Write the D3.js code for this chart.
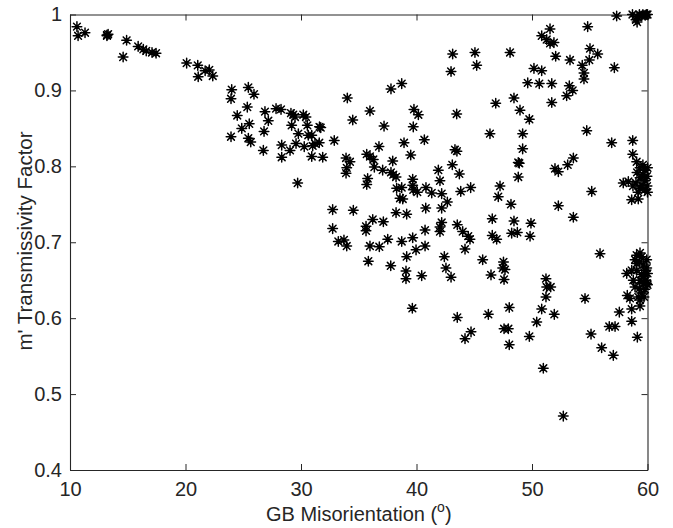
<!DOCTYPE html>
<html>
<head>
<meta charset="utf-8">
<script src="https://cdn.jsdelivr.net/npm/d3@7/dist/d3.min.js"></script>
<style>
  html, body { margin: 0; padding: 0; background: #fff; }
  svg { display: block; }
  text { font-family: "Liberation Sans", Arial, Helvetica, sans-serif; }
</style>
</head>
<body>
<svg id="chart" width="673" height="528"></svg>
<script>
// ---- data: [GB misorientation (deg), m' transmissivity factor] ----
const lowAngle = [
  [10.6,0.984],[10.7,0.972],[11.3,0.976],[13.2,0.973],[13.3,0.974],[13.2,0.972],[14.9,0.966],[14.6,0.944],
  [15.9,0.958],[16.35,0.954],[16.6,0.952],[17.1,0.950],[17.45,0.949],
  [20.1,0.936],[21.06,0.933],[21.1,0.918],[21.7,0.926],[22.06,0.927],[22.36,0.919],
  [24.0,0.901],[23.94,0.889],[24.48,0.867],[23.94,0.839],[24.87,0.850],[25.44,0.904],[25.93,0.895],
  [25.35,0.878],[25.52,0.856],[25.44,0.837],[25.65,0.832],
  [26.88,0.872],[27.17,0.860],[26.80,0.846],[26.74,0.821],[27.84,0.876],[28.27,0.875],[28.33,0.828],[28.33,0.812],
  [29.13,0.870],[29.33,0.868],[29.19,0.854],[29.48,0.865],[29.05,0.821],[29.77,0.843],[29.57,0.830],[29.71,0.778],
  [30.20,0.868],[30.43,0.865],[30.55,0.854],[30.63,0.841],[30.93,0.841],[30.28,0.826],[31.01,0.827],[31.21,0.830],
  [31.58,0.831],[30.93,0.813],[31.71,0.851],[31.6,0.852],[31.88,0.812],
  [32.88,0.834],[32.74,0.743],[32.74,0.718],[33.23,0.701]
];
const midAngle = [
  [34.01,0.890],[35.97,0.873],[34.48,0.861],[37.19,0.853],[37.79,0.902],[38.72,0.909],[39.78,0.875],[40.16,0.868],
  [39.72,0.852],[43.48,0.869],[43.13,0.948],[42.99,0.925],[45.06,0.950],[45.21,0.933],
  [36.75,0.826],[38.92,0.831],[40.68,0.835],[39.50,0.815],[43.33,0.822],[43.5,0.820],
  [35.69,0.816],[35.97,0.813],[36.26,0.809],[33.90,0.811],[34.24,0.806],[33.96,0.798],[33.90,0.791],[35.77,0.784],
  [35.69,0.776],[36.35,0.799],[37.07,0.795],[37.94,0.807],[37.79,0.792],[37.99,0.789],[38.23,0.786],[38.72,0.772],
  [38.28,0.771],[38.57,0.758],[38.81,0.757],
  [39.67,0.783],[39.67,0.775],[39.72,0.769],[40.07,0.766],[40.82,0.772],[41.32,0.765],[42.18,0.764],[42.67,0.753],
  [42.18,0.745],[41.89,0.795],[42.03,0.781],[43.10,0.802],[43.71,0.790],[43.83,0.767],[44.69,0.772],
  [40.80,0.745],[38.23,0.739],[39.15,0.737],[34.53,0.742],[36.21,0.730],[37.13,0.727],[35.63,0.721],[35.63,0.715],
  [40.74,0.716],[42.18,0.726],[42.03,0.720],[42.03,0.714],[43.53,0.723],[44.0,0.714],[44.48,0.708],[44.63,0.704],
  [33.72,0.703],[33.96,0.695],[35.97,0.695],[36.78,0.694],[37.51,0.704],[38.72,0.701],[39.67,0.706],[40.74,0.695],
  [39.96,0.690],[39.15,0.681],[42.41,0.681],[44.20,0.691],[35.83,0.675],
  [37.77,0.669],[39.09,0.662],[39.09,0.652],[40.45,0.656],[42.55,0.666],[42.99,0.654],[39.64,0.613],[43.53,0.601],
  [44.72,0.582],[44.20,0.573]
];
const highAngle = [
  [48.10,0.950],[51.56,0.981],[50.84,0.972],[51.27,0.967],[51.56,0.962],[51.90,0.963],[52.05,0.945],[54.82,0.984],
  [55.02,0.955],[55.69,0.948],[54.96,0.940],[54.35,0.933],[54.50,0.923],[54.50,0.915],[53.29,0.940],[50.17,0.929],
  [50.84,0.926],[49.63,0.910],[50.63,0.909],[51.71,0.909],[53.23,0.906],[53.52,0.900],[53.0,0.893],[51.71,0.884],
  [46.86,0.883],[48.44,0.890],[48.96,0.874],[49.77,0.862],[46.36,0.843],[49.19,0.843],[49.19,0.823],[48.81,0.805],
  [48.9,0.804],[48.81,0.786],[54.74,0.847],
  [53.58,0.811],[53.09,0.802],[51.99,0.797],[52.28,0.793],[55.17,0.767],[52.28,0.748],[53.58,0.733],[55.89,0.685],
  [47.23,0.774],[47.08,0.760],[48.18,0.750],[46.56,0.731],[46.56,0.709],[46.94,0.704],[48.44,0.728],[48.24,0.712],
  [48.73,0.713],[49.91,0.725],[49.83,0.708],
  [45.73,0.677],[47.53,0.674],[46.45,0.657],[47.46,0.666],[47.66,0.664],[47.58,0.651],[51.21,0.652],[51.27,0.641],
  [51.62,0.641],[51.21,0.628],[54.59,0.626],
  [46.22,0.605],[48.03,0.614],[47.58,0.586],[47.95,0.586],[48.03,0.565],[49.77,0.576],[50.41,0.595],[50.84,0.612],
  [51.93,0.605],[50.98,0.534],[52.71,0.471],[55.11,0.579],[56.03,0.561],[56.69,0.589],[57.19,0.589],[57.04,0.551],
  [57.56,0.608]
];
const nearSixty = [
  [57.33,0.998],[58.7,1.0],[59.0,0.993],[59.1,0.990],[59.3,1.0],[59.6,1.0],[59.9,1.0],[60,1.0],[59.8,0.999],
  [59.5,0.998],[59.1,0.997],[57.13,0.930],
  [56.90,0.831],[58.72,0.834],[58.72,0.816],[59.06,0.806],[57.90,0.778],[58.34,0.780],[58.63,0.756],[59.20,0.757],
  [59.35,0.798],[59.78,0.795],[59.09,0.792],[59.61,0.789],[59.96,0.787],[59.35,0.785],[59.78,0.781],[59.0,0.778],
  [59.52,0.775],[59.96,0.774],[59.35,0.771],[59.78,0.769],[58.74,0.774],[59.18,0.766],[60.0,0.766],[59.6,0.802],[60,0.798],
  [58.63,0.596],[59.12,0.575],[58.63,0.612],[58.20,0.659],[58.25,0.630],[58.48,0.626],[59.35,0.616],
  [59.06,0.683],[59.35,0.686],[59.5,0.681],[58.92,0.677],[59.93,0.677],[59.29,0.674],[59.64,0.670],[58.63,0.663],
  [59.06,0.663],[59.78,0.663],[60.0,0.659],[59.5,0.658],[58.77,0.650],[59.35,0.650],[59.87,0.650],[59.64,0.646],
  [60.0,0.644],[58.92,0.641],[59.29,0.639],[59.78,0.638],[59.5,0.633],[59.2,0.628],[59.7,0.628],[59.35,0.624],
  [59.93,0.646],[59.64,0.655],[59.93,0.666],[59.06,0.672]
];
const xTicks = [10, 20, 30, 40, 50, 60];
const yTicks = [0.4, 0.5, 0.6, 0.7, 0.8, 0.9, 1];
const xTitle = "GB Misorientation (";
const xTitleSup = "o";
const yTitle = "m' Transmissivity Factor";

// ---- layout ----
const svg = d3.select("#chart");
const mLeft = 70, mRight = 647.5, mTop = 14.5, mBottom = 470;
const axisColor = "#262626";

const x = d3.scaleLinear().domain([10, 60]).range([mLeft, mRight]);
const y = d3.scaleLinear().domain([0.4, 1]).range([mBottom, mTop]);

const yFmt = d => (d === 1 ? "1" : d3.format(".1f")(d));

const gx = svg.append("g").attr("transform", `translate(0,${mBottom})`)
  .call(d3.axisBottom(x).tickValues(xTicks).tickSizeInner(-6).tickSizeOuter(0).tickPadding(12).tickFormat(d3.format("d")));
const gxt = svg.append("g").attr("transform", `translate(0,${mTop})`)
  .call(d3.axisTop(x).tickValues(xTicks).tickSizeInner(-6).tickSizeOuter(0).tickFormat(""));
const gy = svg.append("g").attr("transform", `translate(${mLeft},0)`)
  .call(d3.axisLeft(y).tickValues(yTicks).tickSizeInner(-6).tickSizeOuter(0).tickPadding(8).tickFormat(yFmt));
const gyr = svg.append("g").attr("transform", `translate(${mRight},0)`)
  .call(d3.axisRight(y).tickValues(yTicks).tickSizeInner(-6).tickSizeOuter(0).tickFormat(""));

[gx, gxt, gy, gyr].forEach(g => {
  g.select(".domain").attr("stroke", axisColor).attr("stroke-width", 1.1);
  g.selectAll(".tick line").attr("stroke", axisColor).attr("stroke-width", 1);
  g.selectAll(".tick text").attr("fill", axisColor).attr("font-size", 20)
    .attr("font-family", "'Liberation Sans', Arial, Helvetica, sans-serif");
});

// ---- markers: MATLAB-style '*' ----
const allPoints = [].concat(lowAngle, midAngle, highAngle, nearSixty);
const r = 4.8, dgl = 3.4;
const starPath = `M${-r},0L${r},0M0,${-r}L0,${r}M${-dgl},${-dgl}L${dgl},${dgl}M${-dgl},${dgl}L${dgl},${-dgl}`;
svg.append("g").selectAll("path").data(allPoints).join("path")
  .attr("transform", d => `translate(${x(d[0])},${y(d[1])})`)
  .attr("d", starPath)
  .attr("fill", "none")
  .attr("stroke", "#000")
  .attr("stroke-width", 1.5)
  .attr("stroke-linecap", "round");

// ---- titles ----
const xt = svg.append("text")
  .attr("x", (mLeft + mRight) / 2)
  .attr("y", 521)
  .attr("text-anchor", "middle")
  .attr("font-size", 20)
  .attr("fill", axisColor);
xt.append("tspan").text(xTitle);
xt.append("tspan").text(xTitleSup).attr("font-size", 14).attr("dy", -9);
xt.append("tspan").text(")").attr("dy", 9);

svg.append("text")
  .attr("transform", `translate(32,241) rotate(-90)`)
  .attr("text-anchor", "middle")
  .attr("font-size", 20.5)
  .attr("fill", axisColor)
  .text(yTitle);
</script>
</body>
</html>
